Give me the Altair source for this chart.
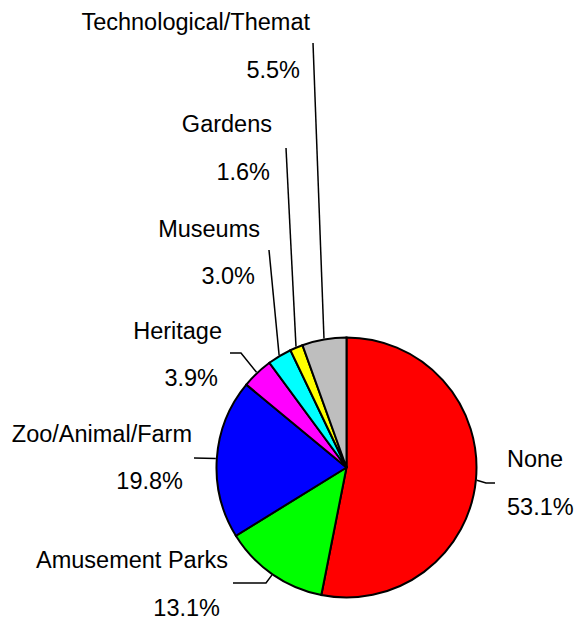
import math
import altair as alt
import pandas as pd

# Share of respondents by type of attraction visited
categories = ["None", "Amusement Parks", "Zoo/Animal/Farm", "Heritage",
              "Museums", "Gardens", "Technological/Themat"]
shares = [53.1, 13.1, 19.8, 3.9, 3.0, 1.6, 5.5]
colors = ["#ff0000", "#00ff00", "#0000ff", "#ff00ff", "#00ffff", "#ffff00", "#bebebe"]

# ---- layout (pixels) ----
W, H = 575, 622
CX, CY, R = 346.5, 467.5, 130
FONT = "Liberation Sans"
FS = 23.5

# name x, name baseline, percent x, percent baseline, alignment
label_layout = {
    "None": (507, 467, 507, 515, "left"),
    "Amusement Parks": (228, 568, 220, 616, "right"),
    "Zoo/Animal/Farm": (192, 442, 183, 489, "right"),
    "Heritage": (222, 339, 218, 386, "right"),
    "Museums": (260, 237, 255, 284, "right"),
    "Gardens": (272, 132, 270, 180, "right"),
    "Technological/Themat": (310, 30, 300, 78, "right"),
}
# leader line points after the slice edge
leader_bends = {
    "None": [(486, 483), (495, 483)],
    "Amusement Parks": [(266, 583), (233, 583)],
    "Zoo/Animal/Farm": [(194, 458)],
    "Heritage": [(241, 353), (230, 353)],
    "Museums": [(269, 250)],
    "Gardens": [(286, 148)],
    "Technological/Themat": [(313, 43)],
}

pie_df = pd.DataFrame({"category": categories, "share": shares,
                       "idx": list(range(len(categories)))})

# leader lines start at the middle of each slice's outer edge
total = sum(shares)
rows = []
cum = 0.0
for cat, s in zip(categories, shares):
    mid = (cum + s / 2) / total * 2 * math.pi
    cum += s
    sx = CX + (R + 1) * math.sin(mid)
    sy = CY - (R + 1) * math.cos(mid)
    pts = [(sx, sy)] + leader_bends[cat]
    for k, (px, py) in enumerate(pts):
        rows.append({"category": cat, "k": k, "px": px, "py": py})
lead_df = pd.DataFrame(rows)

text_rows = []
for cat, s in zip(categories, shares):
    nx, ny, qx, qy, al = label_layout[cat]
    text_rows.append({"txt": cat, "px": nx, "py": ny, "al": al})
    text_rows.append({"txt": f"{s:.1f}%", "px": qx, "py": qy, "al": al})
text_df = pd.DataFrame(text_rows)

X = lambda f: alt.X(f, scale=None, axis=None)
Y = lambda f: alt.Y(f, scale=None, axis=None)

pie = alt.Chart(pie_df).mark_arc(
    outerRadius=R, stroke="black", strokeWidth=2
).encode(
    theta=alt.Theta("share:Q", stack=True),
    color=alt.Color("category:N", scale=alt.Scale(domain=categories, range=colors), legend=None),
    order=alt.Order("idx:Q"),
    x=alt.value(CX),
    y=alt.value(CY),
)

leaders = alt.Chart(lead_df).mark_line(color="black", strokeWidth=1.5).encode(
    x=X("px:Q"), y=Y("py:Q"), detail="category:N", order="k:Q"
)

def text_layer(align):
    return alt.Chart(text_df[text_df["al"] == align]).mark_text(
        align=align, baseline="alphabetic", font=FONT, fontSize=FS, color="black"
    ).encode(x=X("px:Q"), y=Y("py:Q"), text="txt:N")

chart = alt.layer(pie, leaders, text_layer("right"), text_layer("left")).properties(
    width=W, height=H, autosize=alt.AutoSizeParams(type="none"), padding=0,
    background="white"
).configure_view(stroke=None)

chart.save("out.html", embed_options={"renderer": "svg", "actions": False})
